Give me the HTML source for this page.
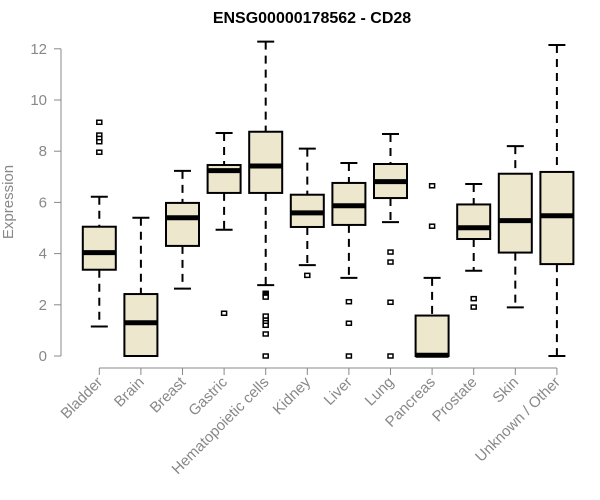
<!DOCTYPE html>
<html><head><meta charset="utf-8"><style>
body{margin:0;background:#fff}
svg{display:block;font-family:"Liberation Sans",Arial,sans-serif}
</style></head><body>
<svg id="chart" width="600" height="500">
<text x="312" y="23" text-anchor="middle" font-size="16" font-weight="bold">ENSG00000178562 - CD28</text>
<text transform="translate(13,202) rotate(-90)" text-anchor="middle" font-size="15" fill="#888">Expression</text>
<g id="yaxis"></g>
<g id="xaxis"></g>
<g id="boxes"></g>
</svg>
<script>
const categories=["Bladder","Brain","Breast","Gastric","Hematopoietic cells","Kidney","Liver","Lung","Pancreas","Prostate","Skin","Unknown / Other"];
const whiskerLow=[1.15,0,2.63,4.93,2.77,3.55,3.05,5.23,0,3.33,1.90,0];
const q1=[3.37,0,4.30,6.37,6.37,5.04,5.12,6.17,0,4.57,4.04,3.59];
const medians=[4.04,1.30,5.40,7.24,7.42,5.59,5.87,6.81,0.03,5.01,5.29,5.48];
const q3=[5.05,2.42,5.98,7.46,8.76,6.30,6.76,7.50,1.58,5.92,7.12,7.19];
const whiskerHigh=[6.22,5.40,7.23,8.71,12.28,8.10,7.54,8.67,3.05,6.72,8.20,12.15];
const outliers=[[9.13,8.63,8.5,8.37,7.96],[],[],[1.67],[2.45,2.4,2.35,2.3,1.56,1.4,1.3,1.2,0.86,0],[3.15],[2.12,1.28,0],[4.06,3.67,2.10,0],[6.65,5.07],[2.24,1.91],[],[]];
const yTicks=[0,2,4,6,8,10,12];
const NS="http://www.w3.org/2000/svg";
const y=v=>356-v*25.6;
const x=i=>99.3+i*41.6;
function mk(tag,attrs,parent){const e=document.createElementNS(NS,tag);for(const k in attrs)e.setAttribute(k,attrs[k]);parent.appendChild(e);return e;}
const ya=document.getElementById('yaxis'),xa=document.getElementById('xaxis'),bx=document.getElementById('boxes');
mk('line',{x1:61,x2:61,y1:y(0),y2:y(12),stroke:'#888'},ya);
yTicks.forEach(t=>{
  const l=mk('line',{x1:54,x2:61,y1:y(t),y2:y(t),stroke:'#888'},ya);
  
  
  const tx=mk('text',{x:47,y:y(t)+5,'text-anchor':'end','font-size':15,fill:'#888'},ya);
  tx.textContent=t;
  
  
});
mk('line',{x1:x(0),x2:x(categories.length-1),y1:368,y2:368,stroke:'#888'},xa);
categories.forEach((c,i)=>{
  const cx=x(i);
  mk('line',{x1:cx,x2:cx,y1:368,y2:375,stroke:'#888'},xa);
  const tx=mk('text',{transform:`translate(${cx+4},${383}) rotate(-45)`,'text-anchor':'end','font-size':15,fill:'#888'},xa);
  tx.textContent=c;
  
  
  const g=mk('g',{},bx);
  
  
  const hw=16.5;
  mk('line',{x1:cx,x2:cx,y1:y(whiskerHigh[i]),y2:y(q3[i]),stroke:'#000','stroke-width':2,'stroke-dasharray':'8,6'},g);
  mk('line',{x1:cx,x2:cx,y1:y(q1[i]),y2:y(whiskerLow[i]),stroke:'#000','stroke-width':2,'stroke-dasharray':'8,6'},g);
  mk('line',{x1:cx-8.5,x2:cx+8.5,y1:y(whiskerHigh[i]),y2:y(whiskerHigh[i]),stroke:'#000','stroke-width':2},g);
  mk('line',{x1:cx-8.5,x2:cx+8.5,y1:y(whiskerLow[i]),y2:y(whiskerLow[i]),stroke:'#000','stroke-width':2},g);
  mk('rect',{x:cx-hw,y:y(q3[i]),width:hw*2,height:Math.max(0,y(q1[i])-y(q3[i])),fill:'#ede7cd',stroke:'#000','stroke-width':2},g);
  mk('line',{x1:cx-hw,x2:cx+hw,y1:y(medians[i]),y2:y(medians[i]),stroke:'#000','stroke-width':5},g);
  outliers[i].forEach(o=>{
    const r=mk('rect',{x:cx-2.5,y:y(o)-2,width:5,height:4,fill:'#fff',stroke:'#000','stroke-width':1.5},g);
    
    
  });
});
</script>
</body></html>
